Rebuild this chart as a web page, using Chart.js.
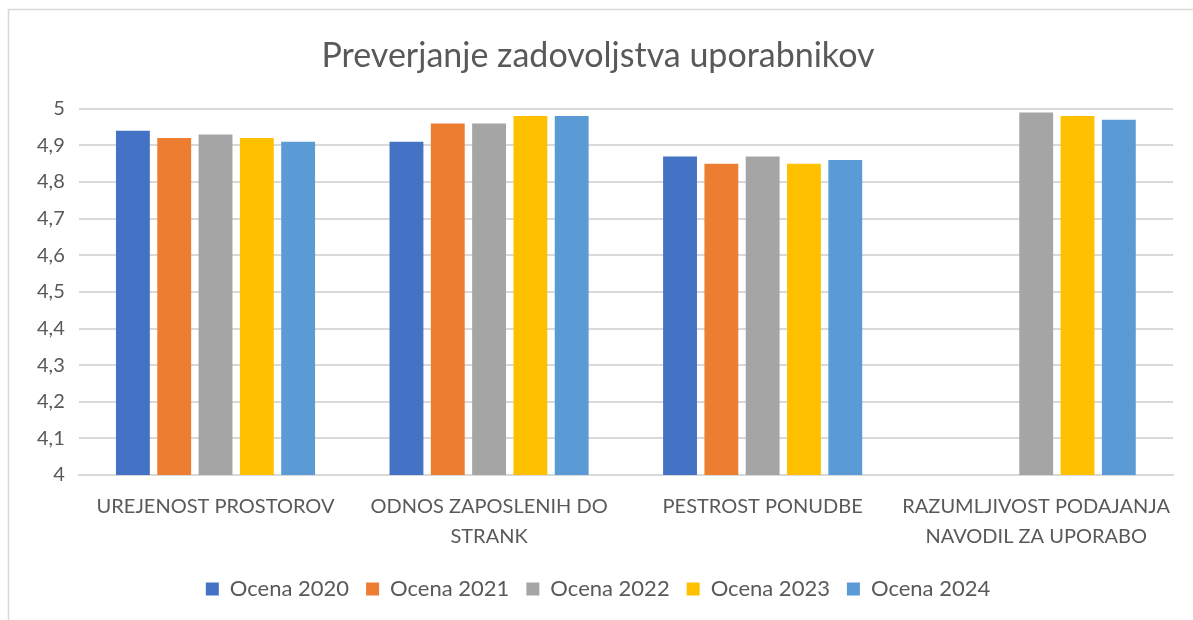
<!DOCTYPE html>
<html>
<head>
<meta charset="utf-8">
<script src="https://cdn.jsdelivr.net/npm/chart.js@4"></script>
<style>
  html, body { margin: 0; padding: 0; background: #fff; }
  #wrap { width: 1193px; height: 620px; position: relative; }
</style>
</head>
<body>
<div id="wrap"><canvas id="bar"></canvas></div>
<script>
const categories = [
  'UREJENOST PROSTOROV',
  ['ODNOS ZAPOSLENIH DO', 'STRANK'],
  'PESTROST PONUDBE',
  ['RAZUMLJIVOST PODAJANJA', 'NAVODIL ZA UPORABO']
];
const ocena2020 = [4.94, 4.91, 4.87, null];
const ocena2021 = [4.92, 4.96, 4.85, null];
const ocena2022 = [4.93, 4.96, 4.87, 4.99];
const ocena2023 = [4.92, 4.98, 4.85, 4.98];
const ocena2024 = [4.91, 4.98, 4.86, 4.97];
const seriesNames = ['Ocena 2020', 'Ocena 2021', 'Ocena 2022', 'Ocena 2023', 'Ocena 2024'];
const colors = ['#4472C4', '#ED7D31', '#A5A5A5', '#FFC000', '#5B9BD5'];
const yMin = 4, yMax = 5, yStep = 0.1;

const font = "Lato, 'Liberation Sans', sans-serif";
const txt = '#595959';

const frame = {
  id: 'frame',
  beforeDraw(chart) {
    const ctx = chart.ctx;
    ctx.save();
    ctx.strokeStyle = '#d9d9d9';
    ctx.lineWidth = 1.5;
    ctx.strokeRect(8.5, 9.5, 1300, 700);
    ctx.restore();
  }
};

const values = [ocena2020, ocena2021, ocena2022, ocena2023, ocena2024];

new Chart(document.getElementById('bar'), {
  type: 'bar',
  data: {
    labels: categories,
    datasets: values.map((v, i) => ({
      label: seriesNames[i],
      data: v,
      backgroundColor: colors[i],
      borderWidth: 0,
      barPercentage: 0.82,
      categoryPercentage: 0.755
    }))
  },
  options: {
    responsive: true,
    maintainAspectRatio: false,
    animation: false,
    layout: { padding: { left: 23, right: 20, top: 26, bottom: 10 } },
    plugins: {
      title: {
        display: true,
        text: 'Preverjanje zadovoljstva uporabnikov',
        color: txt,
        font: { family: font, size: 34, weight: 'normal' },
        padding: { top: 10, bottom: 32 }
      },
      legend: {
        position: 'bottom',
        labels: {
          color: txt,
          font: { family: font, size: 22 },
          boxWidth: 13,
          boxHeight: 13,
          padding: 17
        }
      },
      tooltip: { enabled: false }
    },
    scales: {
      x: {
        grid: { display: false },
        border: { color: '#d9d9d9', width: 2 },
        ticks: {
          color: txt,
          font: { family: font, size: 20, lineHeight: 1.5 },
          maxRotation: 0,
          autoSkip: false,
          padding: 9
        }
      },
      y: {
        min: yMin,
        max: yMax,
        grid: { color: '#d9d9d9', lineWidth: 2, drawTicks: false },
        border: { display: false },
        ticks: {
          stepSize: yStep,
          color: txt,
          font: { family: font, size: 20 },
          padding: 14,
          callback: v => (Math.round(v * 10) / 10).toString().replace('.', ',')
        }
      }
    }
  },
  plugins: [frame]
});
</script>
</body>
</html>
